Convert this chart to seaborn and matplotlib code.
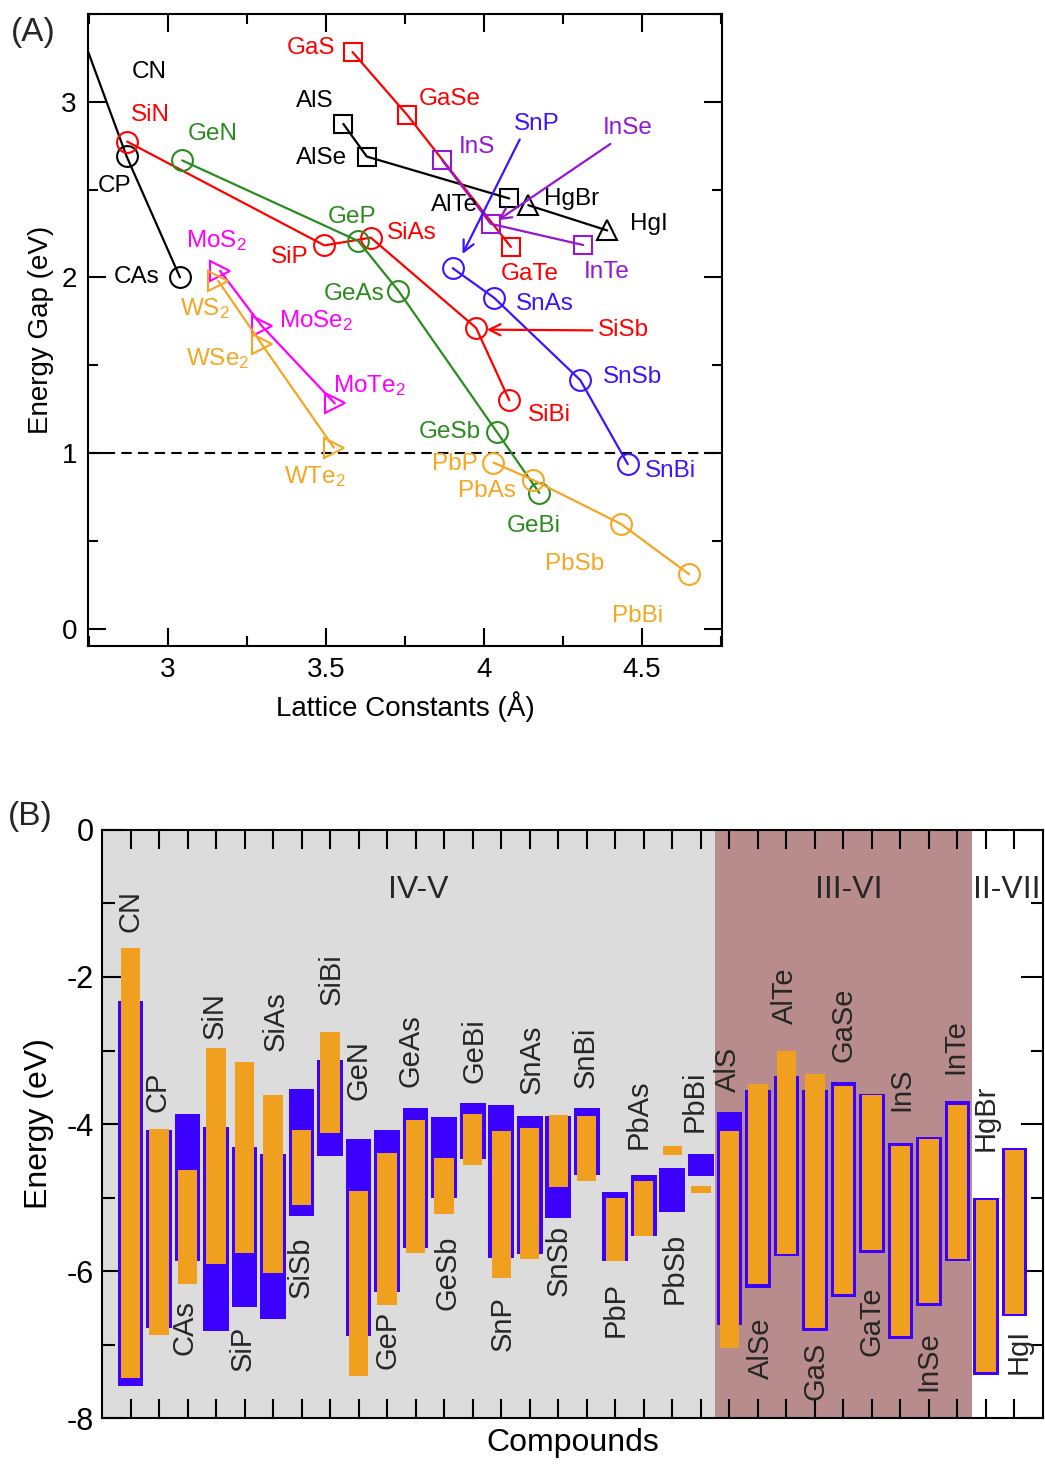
import numpy as np
import pandas as pd
import matplotlib
matplotlib.use("Agg")
import matplotlib.pyplot as plt
import seaborn as sns
from matplotlib.ticker import MultipleLocator, FuncFormatter

# ---------------- Panel A data: lattice constant (A) and energy gap (eV) ----------------
c_names = ["CN", "CP", "CAs"]
c_lat = [2.356, 2.869, 3.038]
c_gap = [5.20, 2.690, 2.000]

si_names = ["SiN", "SiP", "SiAs", "SiSb", "SiBi"]
si_lat = [2.871, 3.495, 3.642, 3.975, 4.080]
si_gap = [2.773, 2.182, 2.226, 1.712, 1.300]

ge_names = ["GeN", "GeP", "GeAs", "GeSb", "GeBi"]
ge_lat = [3.045, 3.602, 3.729, 4.040, 4.175]
ge_gap = [2.666, 2.207, 1.924, 1.121, 0.772]

sn_names = ["SnP", "SnAs", "SnSb", "SnBi"]
sn_lat = [3.901, 4.033, 4.305, 4.455]
sn_gap = [2.052, 1.882, 1.414, 0.936]

pb_names = ["PbP", "PbAs", "PbSb", "PbBi"]
pb_lat = [4.030, 4.154, 4.433, 4.649]
pb_gap = [0.945, 0.847, 0.596, 0.309]

al_names = ["AlS", "AlSe", "AlTe"]
al_lat = [3.555, 3.629, 4.080]
al_gap = [2.874, 2.688, 2.449]

ga_names = ["GaS", "GaSe", "GaTe"]
ga_lat = [3.584, 3.757, 4.085]
ga_gap = [3.283, 2.925, 2.173]

in_names = ["InS", "InSe", "InTe"]
in_lat = [3.868, 4.021, 4.314]
in_gap = [2.666, 2.305, 2.184]

hg_names = ["HgBr", "HgI"]
hg_lat = [4.140, 4.390]
hg_gap = [2.411, 2.267]

mo_names = ["MoS2", "MoSe2", "MoTe2"]
mo_lat = [3.165, 3.296, 3.528]
mo_gap = [2.037, 1.725, 1.282]

w_names = ["WS2", "WSe2", "WTe2"]
w_lat = [3.159, 3.296, 3.525]
w_gap = [1.980, 1.621, 1.030]

# ---------------- Panel B data: band edges (eV) ----------------
compounds = ["CN", "CP", "CAs", "SiN", "SiP", "SiAs", "SiSb", "SiBi", "GeN", "GeP",
             "GeAs", "GeSb", "GeBi", "SnP", "SnAs", "SnSb", "SnBi", "PbP", "PbAs", "PbSb",
             "PbBi", "AlS", "AlSe", "AlTe", "GaS", "GaSe", "GaTe", "InS", "InSe", "InTe",
             "HgBr", "HgI"]
blue_top = [-2.33, -4.08, -3.86, -4.04, -4.31, -4.41, -3.53, -3.13, -4.21, -4.08,
            -3.78, -3.90, -3.72, -3.74, -3.89, -3.89, -3.78, -4.93, -4.69, -4.60,
            -4.41, -3.83, -3.54, -3.35, -3.54, -3.43, -3.59, -4.26, -4.17, -3.69,
            -5.01, -4.32]
blue_bot = [-7.57, -6.77, -5.86, -6.82, -6.49, -6.65, -5.25, -4.43, -6.88, -6.28,
            -5.69, -5.01, -4.48, -5.82, -5.77, -5.28, -4.69, -5.87, -5.53, -5.20,
            -4.71, -6.73, -6.23, -5.80, -6.82, -6.35, -5.76, -6.92, -6.47, -5.87,
            -7.41, -6.61]
orange_top = [-1.60, -4.07, -4.63, -2.97, -3.15, -3.60, -4.08, -2.75, -4.91, -4.40,
              -3.94, -4.46, -3.86, -4.09, -4.06, -3.88, -3.89, -5.00, -4.78, -4.30,
              -4.85, -4.09, -3.45, -3.01, -3.32, -3.48, -3.61, -4.30, -4.20, -3.74,
              -5.03, -4.36]
orange_bot = [-7.46, -6.87, -6.17, -5.90, -5.76, -6.03, -5.10, -4.12, -7.43, -6.46,
              -5.75, -5.22, -4.56, -6.09, -5.84, -4.86, -4.78, -5.87, -5.53, -4.42,
              -4.94, -7.05, -6.18, -5.77, -6.78, -6.31, -5.72, -6.88, -6.43, -5.84,
              -7.38, -6.58]
group_names = ["IV-V", "III-VI", "II-VII"]

# ---------------- style ----------------
sns.set_theme(style="ticks")
plt.rcParams["font.family"] = ["Liberation Sans", "DejaVu Sans"]
plt.rcParams["mathtext.fontset"] = "custom"
plt.rcParams["mathtext.rm"] = "Liberation Sans"
plt.rcParams["mathtext.it"] = "Liberation Sans:italic"
plt.rcParams["axes.unicode_minus"] = False
plt.rcParams["axes.edgecolor"] = "black"
plt.rcParams["axes.linewidth"] = 1.5

RED = "#ff0000"
GREEN = "#2a8c1e"
BLUE = "#3c14ff"
ORANGE = "#f5a623"
PURPLE = "#9418d2"
MAGENTA = "#ff00ff"
BLACK = "black"

fig = plt.figure(figsize=(10.45, 14.69), dpi=100)
axA = fig.add_axes([0.0842, 0.5602, 0.6067, 0.4303])
axB = fig.add_axes([0.0976, 0.0347, 0.9005, 0.4003])

# ---------------- Panel A ----------------
series = [
    (c_lat, c_gap, BLACK, "o", 15),
    (si_lat, si_gap, RED, "o", 15),
    (ge_lat, ge_gap, GREEN, "o", 15),
    (sn_lat, sn_gap, BLUE, "o", 15),
    (pb_lat, pb_gap, ORANGE, "o", 15),
    (al_lat, al_gap, BLACK, "s", 13),
    (ga_lat, ga_gap, RED, "s", 13),
    (in_lat, in_gap, PURPLE, "s", 13),
    (hg_lat, hg_gap, BLACK, "^", 15),
    (mo_lat, mo_gap, MAGENTA, ">", 14),
    (w_lat, w_gap, ORANGE, ">", 14),
]
for lat, gap, col, mk, ms in series:
    sns.lineplot(x=lat, y=gap, sort=False, estimator=None, color=col, lw=1.6,
                 marker=mk, ms=ms, mfc="none", mec=col, mew=1.5, ax=axA)

axA.axhline(1.0, color="black", lw=1.5, ls=(0, (5, 3)), zorder=0)
axA.set_xlim(2.747, 4.753)
axA.set_ylim(-0.1, 3.5)
axA.xaxis.set_major_locator(MultipleLocator(0.5))
axA.xaxis.set_minor_locator(MultipleLocator(0.25))
axA.yaxis.set_major_locator(MultipleLocator(1))
axA.yaxis.set_minor_locator(MultipleLocator(0.5))
fmt = FuncFormatter(lambda v, p: ("%g" % v))
axA.xaxis.set_major_formatter(fmt)
axA.yaxis.set_major_formatter(fmt)
axA.tick_params(which="both", direction="in", top=True, right=True, width=1.5,
                colors="black", labelsize=20)
axA.tick_params(which="major", length=13, pad=8)
axA.tick_params(which="minor", length=7)
axA.set_xlabel("Lattice Constants (Å)", fontsize=20, labelpad=6, color="black")
axA.set_ylabel("Energy Gap (eV)", fontsize=20, labelpad=5, color="black")
for s in axA.spines.values():
    s.set_visible(True)
    s.set_linewidth(1.5)

labelsA = [
    ("CN", 2.942, 3.172, BLACK), ("SiN", 2.944, 2.922, RED), ("CP", 2.831, 2.520, BLACK),
    ("GeN", 3.142, 2.816, GREEN), ("AlS", 3.464, 3.002, BLACK), ("AlSe", 3.487, 2.680, BLACK),
    ("GaS", 3.452, 3.304, RED), ("GaSe", 3.891, 3.017, RED), ("InS", 3.978, 2.741, PURPLE),
    ("SnP", 4.166, 2.873, BLUE), ("InSe", 4.454, 2.850, PURPLE), ("AlTe", 3.907, 2.412, BLACK),
    ("HgBr", 4.277, 2.444, BLACK), ("HgI", 4.522, 2.303, BLACK), ("GeP", 3.583, 2.344, GREEN),
    ("SiAs", 3.771, 2.253, RED), ("SiP", 3.385, 2.113, RED), ("MoS$_2$", 3.153, 2.208, MAGENTA),
    ("CAs", 2.902, 2.000, BLACK), ("GaTe", 4.145, 2.019, RED), ("InTe", 4.389, 2.028, PURPLE),
    ("GeAs", 3.588, 1.906, GREEN), ("SnAs", 4.194, 1.849, BLUE), ("WS$_2$", 3.116, 1.822, ORANGE),
    ("MoSe$_2$", 3.470, 1.754, MAGENTA), ("SiSb", 4.442, 1.702, RED), ("WSe$_2$", 3.158, 1.537, ORANGE),
    ("SnSb", 4.471, 1.430, BLUE), ("MoTe$_2$", 3.638, 1.386, MAGENTA), ("SiBi", 4.206, 1.216, RED),
    ("GeSb", 3.891, 1.121, GREEN), ("PbP", 3.907, 0.938, ORANGE), ("SnBi", 4.590, 0.895, BLUE),
    ("WTe$_2$", 3.464, 0.866, ORANGE), ("PbAs", 4.009, 0.781, ORANGE), ("GeBi", 4.157, 0.583, GREEN),
    ("PbSb", 4.287, 0.370, ORANGE), ("PbBi", 4.487, 0.073, ORANGE),
]
for t, x, y, c in labelsA:
    axA.text(x, y, t, color=c, fontsize=17.5, ha="center", va="center")

arrowsA = [((4.113, 2.785), (3.932, 2.133), BLUE),
           ((4.400, 2.760), (4.044, 2.325), PURPLE),
           ((4.343, 1.698), (4.009, 1.702), RED)]
for start, end, c in arrowsA:
    axA.annotate("", xy=end, xytext=start,
                 arrowprops=dict(arrowstyle="->", color=c, lw=1.6, mutation_scale=20,
                                 shrinkA=0, shrinkB=0))

fig.text(33 / 1045, 1 - 33 / 1469, "(A)", fontsize=24, ha="center", va="center")
fig.text(30 / 1045, 1 - 817 / 1469, "(B)", fontsize=24, ha="center", va="center")

# ---------------- Panel B ----------------
dfB = pd.DataFrame({
    "compound": compounds,
    "blue_h": np.array(blue_top) - np.array(blue_bot),
    "blue_b": blue_bot,
    "orange_h": np.array(orange_top) - np.array(orange_bot),
    "orange_b": orange_bot,
})
axB.axvspan(-1, 20.5, color="#dcdcdc", zorder=0, lw=0)
axB.axvspan(20.5, 29.5, color="#b88c8c", zorder=0, lw=0)

sns.barplot(data=dfB, x="compound", y="blue_h", bottom=dfB["blue_b"].values,
            color="#3c00ff", saturation=1, width=0.9, errorbar=None, linewidth=0,
            ax=axB, zorder=2)
sns.barplot(data=dfB, x="compound", y="orange_h", bottom=dfB["orange_b"].values,
            color="#f0a01e", saturation=1, width=0.68, errorbar=None, linewidth=0,
            ax=axB, zorder=3)

axB.set_xlim(-1, 32)
axB.set_ylim(-8, 0)
axB.set_xticks(np.arange(len(compounds)))
axB.set_xticklabels([])
axB.yaxis.set_major_locator(MultipleLocator(2))
axB.yaxis.set_minor_locator(MultipleLocator(1))
axB.yaxis.set_major_formatter(fmt)
axB.tick_params(which="both", direction="in", top=True, right=True, width=1.5,
                colors="black", labelsize=22)
axB.tick_params(axis="x", which="major", length=14)
axB.tick_params(axis="y", which="major", length=16, pad=6)
axB.tick_params(axis="y", which="minor", length=9)
axB.set_xlabel("Compounds", fontsize=23, labelpad=4, color="black")
axB.set_ylabel("Energy (eV)", fontsize=23, labelpad=9, color="black")
for s in axB.spines.values():
    s.set_visible(True)
    s.set_linewidth(1.5)
    s.set_zorder(5)

label_pos_B = [
    (0.00, -1.10), (0.95, -3.56), (1.90, -6.77), (2.95, -2.52), (3.94, -7.05),
    (5.09, -2.60), (5.96, -5.95), (7.05, -2.03), (8.01, -3.27), (9.00, -6.94),
    (9.83, -3.00), (11.12, -6.02), (12.08, -3.00), (13.04, -6.72), (14.06, -3.12),
    (15.01, -5.85), (15.95, -3.09), (17.02, -6.53), (17.82, -3.87), (19.07, -5.96),
    (19.78, -3.69), (20.94, -3.25), (22.12, -7.05), (22.95, -2.26), (24.02, -7.36),
    (24.99, -2.65), (25.99, -6.68), (27.03, -3.53), (27.98, -7.23), (28.92, -2.94),
    (29.98, -3.91), (31.14, -7.10),
]
for name, (x, y) in zip(compounds, label_pos_B):
    axB.text(x, y, name, rotation=90, fontsize=21, ha="center", va="center", zorder=4)

for g, x in zip(group_names, [10.09, 25.17, 30.72]):
    axB.text(x, -0.82, g, fontsize=23, ha="center", va="center", zorder=4)

fig.savefig("out.png", dpi=100)
